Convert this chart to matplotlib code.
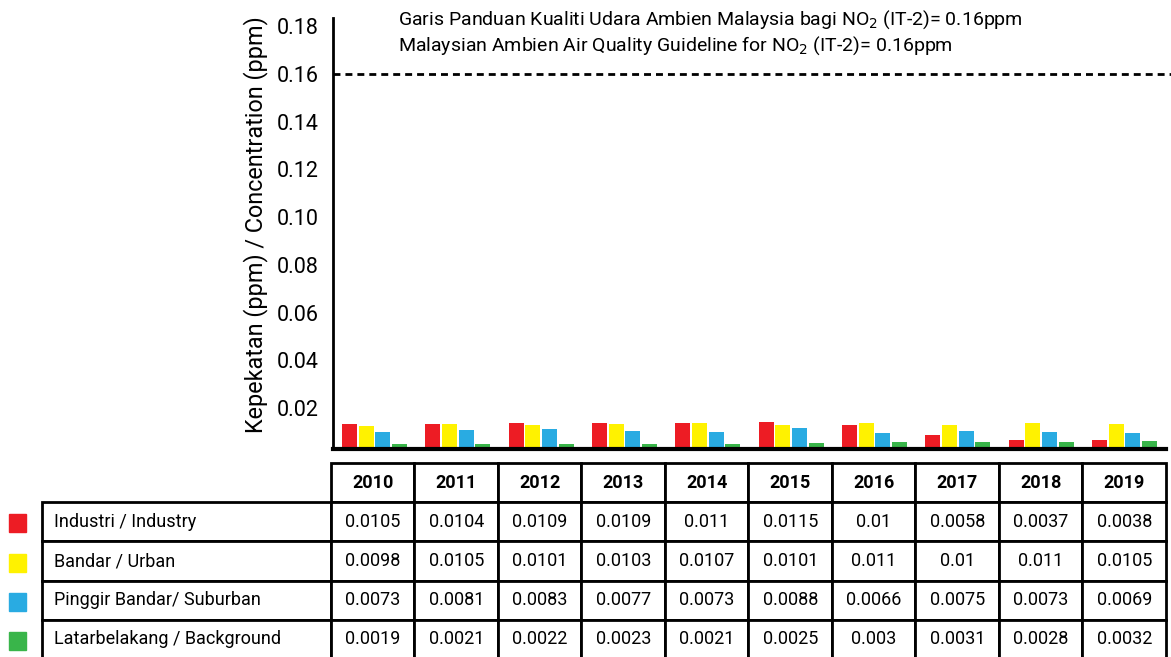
"""NO2 annual mean concentration by station category, 2010-2019, with data table underneath."""

import matplotlib
matplotlib.use('Agg')
import matplotlib.pyplot as plt
import matplotlib.transforms as mtransforms
from matplotlib.patches import Rectangle
from matplotlib.table import Table
import numpy as np

plt.rcParams['font.family'] = ['Roboto', 'DejaVu Sans']

# Data
years = ['2010', '2011', '2012', '2013', '2014', '2015', '2016', '2017', '2018', '2019']
series_names = ['Industri / Industry', 'Bandar / Urban',
                'Pinggir Bandar/ Suburban', 'Latarbelakang / Background']
industry = [0.0105, 0.0104, 0.0109, 0.0109, 0.011, 0.0115, 0.01, 0.0058, 0.0037, 0.0038]
urban = [0.0098, 0.0105, 0.0101, 0.0103, 0.0107, 0.0101, 0.011, 0.01, 0.011, 0.0105]
suburban = [0.0073, 0.0081, 0.0083, 0.0077, 0.0073, 0.0088, 0.0066, 0.0075, 0.0073, 0.0069]
background = [0.0019, 0.0021, 0.0022, 0.0023, 0.0021, 0.0025, 0.003, 0.0031, 0.0028, 0.0032]
cell_labels = [
    ['0.0105', '0.0104', '0.0109', '0.0109', '0.011', '0.0115', '0.01', '0.0058', '0.0037', '0.0038'],
    ['0.0098', '0.0105', '0.0101', '0.0103', '0.0107', '0.0101', '0.011', '0.01', '0.011', '0.0105'],
    ['0.0073', '0.0081', '0.0083', '0.0077', '0.0073', '0.0088', '0.0066', '0.0075', '0.0073', '0.0069'],
    ['0.0019', '0.0021', '0.0022', '0.0023', '0.0021', '0.0025', '0.003', '0.0031', '0.0028', '0.0032'],
]
guideline = 0.16
colors = ['#ED1C24', '#FFF200', '#29ABE2', '#39B54A']


def render():
    fig = plt.figure(figsize=(11.71, 6.57), dpi=100)
    W, H = 1171, 657
    # axes box in pixels: x 333..1166, y 18..449 (from top)
    ax = fig.add_axes([333 / W, 1 - 449 / H, (1166 - 333) / W, (449 - 18) / H])

    x = np.arange(len(years))
    step = 0.2
    for i, vals in enumerate([industry, urban, suburban, background]):
        ax.bar(x + (i - 1.5) * step, vals, width=0.18, color=colors[i], zorder=2)

    # the original's labels and guideline sit a few pixels below the bar scale
    shift = mtransforms.ScaledTranslation(0, -7 / 100, fig.dpi_scale_trans)

    gl = ax.axhline(guideline, color='black', lw=2, dashes=(2.5, 1.8), clip_on=False,
                    xmax=1.006, zorder=3)
    gl.set_transform(gl.get_transform() + shift)

    ax.set_xlim(-0.5, len(years) - 0.5)
    ax.set_ylim(0, 0.1805)
    ticks = np.arange(0.02, 0.181, 0.02)
    ax.set_yticks(ticks)
    ax.set_yticklabels(['%.2f' % v for v in ticks], fontsize=15.5)
    ax.tick_params(axis='y', length=0, pad=10)
    for lab in ax.get_yticklabels():
        lab.set_transform(lab.get_transform() + shift)
    ax.set_xticks([])
    for s in ['top', 'right']:
        ax.spines[s].set_visible(False)
    ax.spines['left'].set_linewidth(2)
    ax.spines['bottom'].set_linewidth(3)
    ax.set_ylabel('Kepekatan (ppm) / Concentration (ppm)', fontsize=16.8)
    ax.yaxis.set_label_coords(-0.078, 0.52)

    ax.text(398 / W, 1 - 20 / H,
            'Garis Panduan Kualiti Udara Ambien Malaysia bagi NO$_2$ (IT-2)= 0.16ppm',
            transform=fig.transFigure, fontsize=14, va='center', ha='left')
    ax.text(398 / W, 1 - 46 / H,
            'Malaysian Ambien Air Quality Guideline for NO$_2$ (IT-2)= 0.16ppm',
            transform=fig.transFigure, fontsize=14, va='center', ha='left')

    # data table below the axes: first column holds the series names
    ax_w, ax_h = 1166 - 333, 449 - 18
    total = 289 + 83.5 * len(years)
    name_w, col_w = 289 / total, 83.5 / total
    row_h = 1.0 / (len(series_names) + 1)
    tbl = Table(ax, bbox=[(42 - 333) / ax_w, -(659 - 449) / ax_h,
                          (1166 - 42) / ax_w, (659 - 463) / ax_h])
    corner = tbl.add_cell(0, 0, name_w, row_h, text='')
    corner.visible_edges = ''
    for j, yr in enumerate(years):
        c = tbl.add_cell(0, j + 1, col_w, row_h, text=yr, loc='center')
        c.get_text().set_fontweight('bold')
    for i, name in enumerate(series_names):
        c = tbl.add_cell(i + 1, 0, name_w, row_h, text=name, loc='left')
        c.PAD = 0.04
        for j, val in enumerate(cell_labels[i]):
            tbl.add_cell(i + 1, j + 1, col_w, row_h, text=val, loc='center')
    tbl.auto_set_font_size(False)
    tbl.set_fontsize(13)
    for cell in tbl.get_celld().values():
        cell.set_linewidth(2)
        cell.set_edgecolor('black')
    ax.add_table(tbl)

    # colour keys beside the table rows
    row_tops = [503, 543, 582, 621]
    for i, top in enumerate(row_tops):
        fig.add_artist(Rectangle((9 / W, 1 - (top + 29) / H), 17 / W, 18 / H,
                                 transform=fig.transFigure, color=colors[i]))

    fig.savefig('out.png', dpi=100)


def main():
    render()


if __name__ == "__main__":
    main()
